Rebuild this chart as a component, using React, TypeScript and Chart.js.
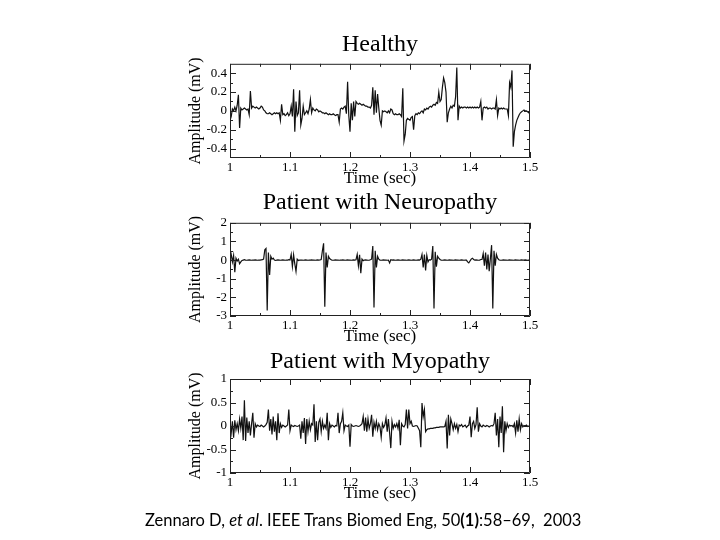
import React, { useEffect, useRef } from "react";
import { Chart, registerables } from "chart.js";

Chart.register(...registerables);

// ---------- data ----------
const SAMPLE_START = 1.0; // sec
const SAMPLE_STEP = 0.002; // sec

const X_TICKS = [1, 1.1, 1.2, 1.3, 1.4, 1.5];
const X_MINOR = [1.05, 1.15, 1.25, 1.35, 1.45];

const HEALTHY_Y_TICKS = [-0.4, -0.2, 0, 0.2, 0.4];
const HEALTHY_Y_MINOR = [-0.3, -0.1, 0.1, 0.3];
const NEURO_Y_TICKS = [-3, -2, -1, 0, 1, 2];
const NEURO_Y_MINOR = [-2.5, -1.5, -0.5, 0.5, 1.5];
const MYO_Y_TICKS = [-1, -0.5, 0, 0.5, 1];
const MYO_Y_MINOR = [-0.75, -0.25, 0.25, 0.75];

const HEALTHY = [
  -0.10, -0.06, 0.02, 0.00, 0.04, 0.00, 0.06, 0.17, -0.18, 0.03,
  0.01, 0.02, 0.03, 0.02, 0.01, 0.02, -0.04, 0.21, 0.03, 0.05,
  0.04, 0.03, 0.04, 0.03, 0.02, 0.03, 0.05, 0.04, 0.01, 0.00,
  -0.02, -0.03, -0.03, -0.02, -0.03, -0.04, -0.03, -0.02, -0.03, -0.02,
  -0.03, -0.02, -0.10, 0.07, -0.04, -0.03, -0.05, -0.04, -0.02, -0.05,
  -0.03, 0.05, -0.06, 0.23, -0.22, 0.10, -0.05, -0.02, 0.22, -0.15,
  -0.08, 0.05, -0.04, -0.02, 0.00, -0.03, 0.02, 0.12, -0.02, 0.03,
  0.01, 0.00, 0.02, 0.01, -0.01, 0.00, -0.01, -0.02, -0.02, -0.03,
  -0.02, -0.03, -0.04, -0.03, -0.04, -0.04, -0.03, -0.04, -0.05, -0.04,
  -0.04, -0.12, 0.02, 0.03, 0.02, 0.04, 0.05, -0.03, 0.31, -0.05,
  -0.22, 0.08, -0.10, 0.10, -0.06, 0.10, 0.08, 0.07, 0.08, 0.07,
  0.06, 0.07, 0.06, 0.05, 0.05, 0.04, 0.04, 0.03, 0.06, 0.25,
  -0.04, 0.22, -0.02, 0.18, 0.03, -0.10, -0.15, 0.00, -0.01, 0.00,
  -0.01, -0.02, 0.00, -0.02, 0.02, 0.01, -0.03, -0.04, -0.03, -0.04,
  -0.04, -0.03, -0.04, -0.06, 0.24, -0.32, -0.25, -0.10, -0.08, -0.09,
  -0.10, -0.07, -0.06, -0.20, -0.05, -0.03, -0.04, -0.02, -0.03, -0.01,
  0.00, -0.02, 0.02, 0.01, 0.03, 0.02, 0.04, 0.05, 0.04, 0.06,
  0.07, 0.06, 0.09, 0.08, 0.20, 0.10, 0.12, 0.25, 0.35, 0.30,
  0.20, -0.12, -0.02, 0.02, 0.05, 0.03, 0.06, 0.05, 0.15, 0.46,
  -0.10, 0.05, 0.03, 0.04, 0.03, 0.04, 0.04, 0.03, 0.04, 0.03,
  0.04, 0.03, 0.04, 0.03, 0.04, 0.03, 0.04, 0.03, 0.04, 0.10,
  -0.10, 0.03, 0.04, 0.03, 0.04, 0.02, 0.03, 0.03, 0.02, 0.03,
  0.03, 0.02, 0.12, -0.05, 0.03, 0.02, 0.03, 0.02, 0.03, 0.02,
  0.02, 0.02, -0.05, 0.30, 0.25, 0.43, -0.38, -0.22, -0.15, -0.10,
  -0.07, -0.04, -0.02, -0.01, 0.00, 0.01, 0.00, 0.00, -0.01, -0.02, -0.02,
];

const NEUROPATHY = [
  0.05, 0.30, -0.10, 0.25, -0.65, 0.10, -0.05, 0.05, -0.20, -0.10,
  -0.02, 0.00, 0.02, 0.00, -0.01, 0.00, 0.01, 0.00, -0.01, 0.00,
  0.00, 0.01, 0.00, -0.01, 0.00, 0.00, 0.01, 0.02, 0.05, 0.55,
  0.62, -2.70, 0.40, -0.80, 0.20, 0.05, 0.10, 0.00, -0.02, 0.00,
  0.01, 0.00, -0.01, 0.00, 0.01, 0.00, -0.01, 0.00, 0.00, 0.02,
  0.00, 0.30, -0.35, 0.28, -0.20, -0.60, 0.05, -0.02, 0.00, 0.00,
  0.00, -0.01, 0.00, 0.01, 0.00, -0.01, 0.00, 0.00, 0.01, 0.00,
  0.00, -0.01, 0.00, 0.01, 0.00, 0.01, 0.03, 0.50, 0.90, -2.50,
  0.40, -0.40, 0.20, 0.08, 0.03, 0.00, -0.01, 0.00, 0.01, 0.00,
  0.00, -0.01, 0.00, 0.00, 0.01, 0.00, -0.01, 0.00, 0.01, 0.00,
  0.00, -0.01, 0.00, 0.01, 0.00, 0.02, 0.30, -0.30, 0.28, -0.70,
  0.05, -0.03, 0.00, 0.01, 0.00, -0.01, 0.00, 0.02, 0.05, 0.75,
  -2.55, 0.50, -0.40, 0.20, 0.05, 0.00, -0.01, 0.00, 0.01, 0.00,
  0.00, -0.01, 0.00, -0.15, 0.02, 0.00, 0.01, 0.00, -0.01, 0.00,
  0.01, 0.00, -0.01, 0.00, 0.01, 0.00, 0.00, -0.01, 0.00, 0.01,
  0.00, -0.01, 0.00, 0.01, 0.00, -0.01, 0.00, 0.01, 0.00, 0.05,
  0.30, -0.40, 0.30, -0.55, 0.25, -0.10, 0.02, 0.00, 0.05, 0.75,
  -2.60, 0.45, -0.35, 0.20, 0.10, 0.03, 0.00, -0.01, 0.00, 0.01,
  0.00, -0.01, 0.00, 0.01, 0.00, 0.00, -0.01, 0.00, 0.01, 0.00,
  0.00, -0.01, 0.00, 0.01, 0.00, -0.01, 0.00, 0.00, -0.10, -0.15,
  -0.05, 0.05, 0.10, 0.03, 0.00, 0.01, 0.00, -0.01, 0.00, 0.03,
  0.03, 0.35, -0.30, 0.40, -0.50, 0.30, -0.60, 0.10, 0.80, -2.60,
  0.50, -0.30, 0.30, 0.10, 0.02, 0.00, -0.01, 0.00, 0.01, 0.00,
  0.00, -0.01, 0.00, 0.01, 0.00, 0.00, -0.01, 0.00, 0.01, 0.00,
  0.00, -0.01, 0.00, 0.01, 0.00, 0.00, 0.01, 0.00, -0.01, 0.00, 0.00,
];

const MYOPATHY = [
  0.05, -0.15, 0.10, -0.25, 0.12, -0.08, 0.05, -0.10, 0.15, -0.05,
  0.20, -0.30, 0.55, -0.32, 0.18, -0.15, 0.10, -0.20, 0.05, 0.28,
  -0.25, 0.05, -0.02, 0.02, 0.00, -0.01, 0.02, 0.00, -0.02, 0.00,
  0.03, 0.08, 0.35, -0.10, 0.15, -0.18, 0.20, -0.12, 0.10, -0.30,
  0.27, -0.15, 0.05, -0.03, 0.02, 0.00, -0.02, 0.00, 0.02, 0.35,
  -0.10, 0.02, 0.00, -0.01, 0.01, 0.00, -0.01, 0.00, 0.02, -0.27,
  0.10, -0.15, 0.17, -0.38, 0.15, -0.12, 0.10, -0.08, 0.05, 0.02,
  0.46, -0.34, 0.10, -0.30, 0.08, 0.15, -0.12, 0.10, -0.05, 0.02,
  -0.05, 0.28, -0.30, 0.05, -0.03, 0.02, 0.00, -0.02, 0.01, 0.00,
  0.28, -0.15, 0.05, 0.10, 0.28, -0.10, 0.02, 0.00, -0.01, 0.02,
  -0.44, 0.03, 0.00, -0.01, 0.00, 0.01, 0.00, -0.01, 0.00, 0.02,
  0.05, 0.20, -0.10, 0.18, -0.12, 0.15, -0.05, 0.05, 0.24, -0.23,
  0.08, -0.05, 0.10, -0.08, 0.05, -0.02, -0.24, 0.05, -0.03, 0.02,
  0.17, -0.12, 0.15, -0.15, -0.47, 0.10, -0.05, 0.03, -0.02, 0.05,
  -0.05, 0.13, -0.41, 0.05, 0.00, -0.02, 0.03, 0.35, -0.05, 0.35,
  0.05, 0.10, 0.00, -0.01, 0.00, 0.01, 0.00, -0.05, -0.10, -0.45,
  0.49, 0.20, 0.35, -0.12, -0.08, -0.06, -0.06, -0.05, -0.05, -0.05,
  -0.04, -0.04, -0.03, -0.03, -0.03, -0.02, -0.02, -0.02, -0.02, -0.01,
  0.10, -0.48, 0.24, -0.20, 0.15, 0.05, -0.08, 0.05, -0.05, 0.03,
  -0.12, 0.02, 0.00, 0.03, -0.02, 0.00, 0.02, -0.03, 0.00, 0.02,
  0.20, -0.24, 0.05, 0.10, -0.05, 0.03, 0.40, -0.12, 0.05, 0.00,
  -0.02, 0.02, 0.00, -0.01, 0.01, 0.00, -0.02, 0.00, 0.01, 0.00,
  0.05, 0.28, -0.20, 0.15, -0.45, 0.20, -0.15, 0.42, -0.56, 0.10,
  -0.10, 0.05, -0.03, 0.02, 0.00, 0.01, -0.02, 0.05, -0.15, 0.12,
  -0.12, 0.15, -0.08, 0.05, -0.02, 0.01, 0.00, 0.02, -0.01, 0.00, 0.01,
];

const TITLES = ["Healthy", "Patient with Neuropathy", "Patient with Myopathy"];
const X_TITLE = "Time (sec)";
const Y_TITLE = "Amplitude (mV)";

// ---------- style / layout ----------
const SERIF = "'Liberation Serif', 'Times New Roman', serif";
const FRAME_COLOR = "#222";
const LINE_COLOR = "#111";

type PanelSpec = {
  title: string;
  values: number[];
  yMin: number;
  yMax: number;
  yTicks: number[];
  yMinor: number[];
  top: number;
  height: number;
  titlePadTop: number;
  titlePadBottom: number;
};

const PANELS: PanelSpec[] = [
  { title: TITLES[0], values: HEALTHY, yMin: -0.5, yMax: 0.5, yTicks: HEALTHY_Y_TICKS, yMinor: HEALTHY_Y_MINOR, top: 0, height: 190, titlePadTop: 30, titlePadBottom: 5 },
  { title: TITLES[1], values: NEUROPATHY, yMin: -3, yMax: 2, yTicks: NEURO_Y_TICKS, yMinor: NEURO_Y_MINOR, top: 180, height: 168, titlePadTop: 8, titlePadBottom: 6 },
  { title: TITLES[2], values: MYOPATHY, yMin: -1, yMax: 1, yTicks: MYO_Y_TICKS, yMinor: MYO_Y_MINOR, top: 340, height: 165, titlePadTop: 7.5, titlePadBottom: 2.7 },
];

const fmt = (v: number) => String(Number(Number(v).toFixed(2)));

function makeFramePlugin(yTicks: number[], yMinor: number[]) {
  return {
    id: "frameTicks",
    afterDraw(chart: any) {
      const { ctx, chartArea: a, scales } = chart;
      const xs = scales.x;
      const ys = scales.y;
      ctx.save();
      ctx.strokeStyle = FRAME_COLOR;
      ctx.lineWidth = 1;
      ctx.beginPath();
      ctx.rect(a.left + 0.5, a.top + 0.5, a.right - a.left - 1, a.bottom - a.top - 1);
      const vtick = (v: number, len: number) => {
        const px = Math.round(xs.getPixelForValue(v)) + 0.5;
        ctx.moveTo(px, a.bottom);
        ctx.lineTo(px, a.bottom - len);
        ctx.moveTo(px, a.top);
        ctx.lineTo(px, a.top + len);
      };
      const htick = (v: number, len: number) => {
        const py = Math.round(ys.getPixelForValue(v)) + 0.5;
        ctx.moveTo(a.left, py);
        ctx.lineTo(a.left + len, py);
        ctx.moveTo(a.right, py);
        ctx.lineTo(a.right - len, py);
      };
      X_TICKS.forEach((v) => vtick(v, 6));
      X_MINOR.forEach((v) => vtick(v, 3));
      yTicks.forEach((v) => htick(v, 6));
      yMinor.forEach((v) => htick(v, 3));
      ctx.stroke();
      ctx.restore();
    },
  };
}

function Panel({ spec }: { spec: PanelSpec }) {
  const ref = useRef<HTMLCanvasElement | null>(null);
  useEffect(() => {
    if (!ref.current) return;
    const points = spec.values.map((y, i) => ({ x: SAMPLE_START + i * SAMPLE_STEP, y }));
    const chart = new Chart(ref.current, {
      type: "line",
      data: {
        datasets: [
          {
            data: points,
            borderColor: LINE_COLOR,
            borderWidth: 1.2,
            pointRadius: 0,
            tension: 0,
            fill: false,
          },
        ],
      },
      options: {
        responsive: false,
        animation: false,
        devicePixelRatio: 1,
        layout: { padding: { left: 40, right: 0, top: 0, bottom: 0 } },
        plugins: {
          legend: { display: false },
          tooltip: { enabled: false },
          title: {
            display: true,
            text: spec.title,
            color: "#000",
            font: { family: SERIF, size: 24, weight: "normal" },
            padding: { top: spec.titlePadTop, bottom: spec.titlePadBottom },
          },
        },
        scales: {
          x: {
            type: "linear",
            position: "bottom",
            min: 1,
            max: 1.5,
            grid: { display: false, drawTicks: false },
            border: { display: false },
            afterBuildTicks: (s: any) => {
              s.ticks = X_TICKS.map((v) => ({ value: v }));
            },
            afterFit: (s: any) => {
              s.height = 32;
            },
            ticks: {
              padding: 2,
              color: "#000",
              maxRotation: 0,
              autoSkip: false,
              font: { family: SERIF, size: 13 },
              callback: (v: any) => fmt(v),
            },
            title: {
              display: true,
              text: X_TITLE,
              color: "#000",
              font: { family: SERIF, size: 17 },
              padding: { top: 0, bottom: 1 },
            },
          },
          y: {
            type: "linear",
            position: "left",
            min: spec.yMin,
            max: spec.yMax,
            grid: { display: false, drawTicks: false },
            border: { display: false },
            afterBuildTicks: (s: any) => {
              s.ticks = spec.yTicks.map((v) => ({ value: v }));
            },
            afterFit: (s: any) => {
              s.width = 190;
            },
            ticks: {
              padding: 3,
              color: "#000",
              autoSkip: false,
              font: { family: SERIF, size: 13 },
              callback: (v: any) => fmt(v),
            },
            title: {
              display: true,
              text: Y_TITLE,
              color: "#000",
              font: { family: SERIF, size: 16 },
              padding: { top: 146, bottom: 0 },
            },
          },
          y2: {
            type: "linear",
            position: "right",
            display: true,
            grid: { display: false, drawTicks: false },
            border: { display: false },
            ticks: { display: false },
            afterFit: (s: any) => {
              s.width = 190;
            },
          },
        },
      } as any,
      plugins: [makeFramePlugin(spec.yTicks, spec.yMinor)],
    });
    return () => chart.destroy();
  }, [spec]);
  return (
    <canvas
      ref={ref}
      width={720}
      height={spec.height}
      style={{ position: "absolute", left: 0, top: spec.top, width: 720, height: spec.height }}
    />
  );
}

export default function App() {
  return (
    <div
      style={{
        position: "absolute",
        left: 0,
        top: 0,
        width: 720,
        height: 540,
        background: "#fff",
        overflow: "hidden",
      }}
    >
      {PANELS.map((p) => (
        <Panel key={p.title} spec={p} />
      ))}
      <div
        style={{
          position: "absolute",
          left: 145,
          top: 510,
          fontFamily: "Lato, 'Open Sans', sans-serif",
          fontSize: 16.5,
          color: "#000",
          whiteSpace: "pre",
          lineHeight: "20px",
        }}
      >
        Zennaro D, <i>et al</i>. IEEE Trans Biomed Eng, 50<b>(1)</b>:58–69,  2003
      </div>
    </div>
  );
}
